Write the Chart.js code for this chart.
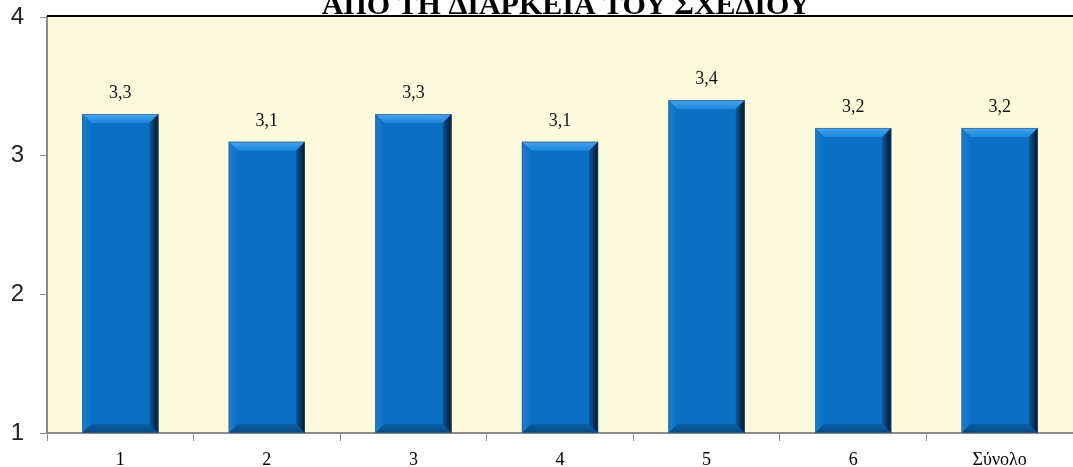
<!DOCTYPE html>
<html>
<head>
<meta charset="utf-8">
<script src="https://cdn.jsdelivr.net/npm/chart.js@4"></script>
<style>
  html, body { margin: 0; padding: 0; background: #fff; }
  #wrap { width: 1073px; height: 467px; }
</style>
</head>
<body>
<div id="wrap"><canvas id="myChart"></canvas></div>
<script>
const categories = ['1', '2', '3', '4', '5', '6', 'Σύνολο'];
const scores = [3.3, 3.1, 3.3, 3.1, 3.4, 3.2, 3.2];
const yTicks = [1, 2, 3, 4];
const chartTitle = 'ΑΠΟ ΤΗ ΔΙΑΡΚΕΙΑ ΤΟΥ ΣΧΕΔΙΟΥ';

const serif = '"Liberation Serif", "Times New Roman", serif';

// yellow plot background, black top edge and the title above it
const frame = {
  id: 'frame',
  beforeDraw(chart) {
    const { ctx, chartArea: a } = chart;
    ctx.save();
    ctx.fillStyle = '#fbfbdc';
    ctx.fillRect(a.left, a.top, a.right - a.left, a.bottom - a.top);
    ctx.restore();
  },
  afterDraw(chart) {
    const { ctx, chartArea: a } = chart;
    ctx.save();
    ctx.strokeStyle = '#000';
    ctx.lineWidth = 2;
    ctx.beginPath();
    ctx.moveTo(a.left, a.top - 1);
    ctx.lineTo(a.right, a.top - 1);
    ctx.stroke();
    ctx.fillStyle = '#000';
    ctx.font = 'bold 30px ' + serif;
    ctx.textAlign = 'center';
    ctx.textBaseline = 'alphabetic';
    ctx.fillText(chartTitle, 566, 13.5);
    ctx.restore();
  }
};

// bevelled look on each bar plus the value above it
const bevel = {
  id: 'bevel',
  afterDatasetsDraw(chart) {
    const { ctx, chartArea } = chart;
    const meta = chart.getDatasetMeta(0);
    ctx.save();
    meta.data.forEach((bar, i) => {
      const l = bar.x - bar.width / 2, r = bar.x + bar.width / 2;
      const t = bar.y, btm = Math.min(bar.base, chartArea.bottom), b = 9;

      let g = ctx.createLinearGradient(0, t, 0, t + b);
      g.addColorStop(0, '#4aa6ee');
      g.addColorStop(1, '#1a84dc');
      ctx.fillStyle = g;
      ctx.beginPath();
      ctx.moveTo(l, t); ctx.lineTo(r, t); ctx.lineTo(r - b, t + b); ctx.lineTo(l + b, t + b);
      ctx.closePath(); ctx.fill();

      g = ctx.createLinearGradient(l, 0, l + b, 0);
      g.addColorStop(0, '#1c7fd0');
      g.addColorStop(1, '#0b70c4');
      ctx.fillStyle = g;
      ctx.beginPath();
      ctx.moveTo(l, t); ctx.lineTo(l + b, t + b); ctx.lineTo(l + b, btm - b); ctx.lineTo(l, btm);
      ctx.closePath(); ctx.fill();

      g = ctx.createLinearGradient(0, btm - b, 0, btm);
      g.addColorStop(0, '#0a5fa8');
      g.addColorStop(1, '#07487f');
      ctx.fillStyle = g;
      ctx.beginPath();
      ctx.moveTo(l, btm); ctx.lineTo(l + b, btm - b); ctx.lineTo(r - b, btm - b); ctx.lineTo(r, btm);
      ctx.closePath(); ctx.fill();

      g = ctx.createLinearGradient(r - b, 0, r, 0);
      g.addColorStop(0, '#0a5a9e');
      g.addColorStop(1, '#021526');
      ctx.fillStyle = g;
      ctx.beginPath();
      ctx.moveTo(r, t); ctx.lineTo(r - b, t + b); ctx.lineTo(r - b, btm - b); ctx.lineTo(r, btm);
      ctx.closePath(); ctx.fill();

      ctx.strokeStyle = 'rgba(60,90,110,0.6)';
      ctx.lineWidth = 1;
      ctx.strokeRect(l + 0.5, t + 0.5, r - l - 1, btm - t - 1);

      ctx.fillStyle = '#111';
      ctx.font = '18px ' + serif;
      ctx.textAlign = 'center';
      ctx.textBaseline = 'alphabetic';
      ctx.fillText(scores[i].toFixed(1).replace('.', ','), bar.x, t - 16);
    });
    ctx.restore();
  }
};

new Chart(document.getElementById('myChart'), {
  type: 'bar',
  data: {
    labels: categories,
    datasets: [{
      data: scores,
      backgroundColor: '#0a70c4',
      borderWidth: 0,
      categoryPercentage: 1,
      barPercentage: 0.52
    }]
  },
  options: {
    responsive: true,
    maintainAspectRatio: false,
    animation: false,
    layout: { padding: { top: 17, right: 0, left: 0, bottom: 0 } },
    plugins: {
      legend: { display: false },
      tooltip: { enabled: false }
    },
    scales: {
      x: {
        grid: { offset: true, drawOnChartArea: false, drawTicks: true, tickLength: 8, color: '#8c8c8c' },
        border: { display: true, color: '#8c8c8c', width: 2 },
        ticks: {
          color: '#000',
          padding: 8,
          font: { family: serif, size: 18 }
        },
        afterFit(scale) {
          scale.height = 34;
          scale.paddingLeft = 0;
          scale.paddingRight = 0;
        }
      },
      y: {
        min: 1,
        max: 4,
        afterBuildTicks(scale) { scale.ticks = yTicks.map(v => ({ value: v })); },
        grid: { drawOnChartArea: false, drawTicks: true, tickLength: 7, color: '#8c8c8c' },
        border: { display: true, color: '#8c8c8c', width: 2 },
        ticks: {
          color: '#222',
          padding: 16,
          font: { family: '"Liberation Sans", Arial, sans-serif', size: 24 }
        },
        afterFit(scale) {
          scale.width = 47;
          scale.paddingTop = 0;
          scale.paddingBottom = 0;
        }
      }
    }
  },
  plugins: [frame, bevel]
});
</script>
</body>
</html>
